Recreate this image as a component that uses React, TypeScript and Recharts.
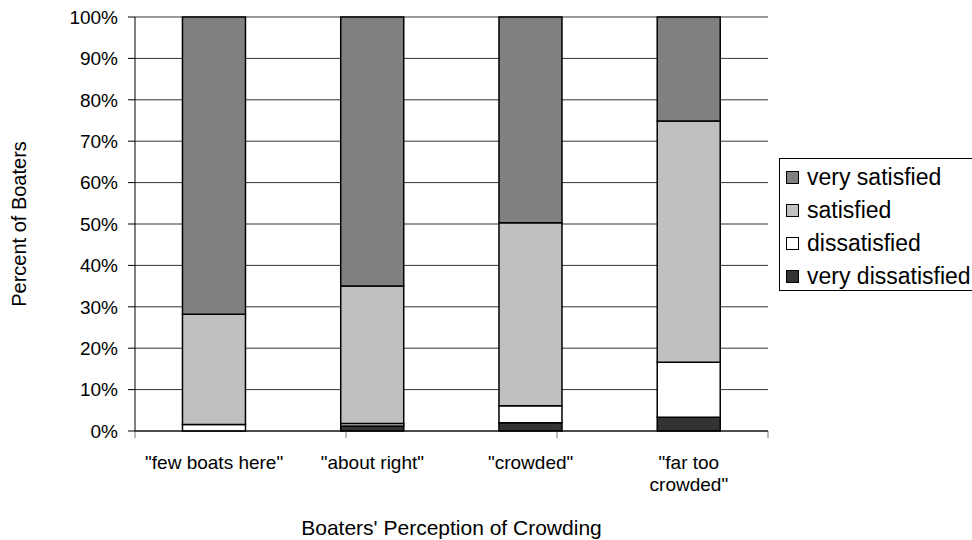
import {
  BarChart, Bar, XAxis, YAxis, CartesianGrid, Legend, ReferenceLine,
} from 'recharts';

const CATEGORIES = ['"few boats here"', '"about right"', '"crowded"', '"far too\ncrowded"'];

// percent of boaters, bottom to top of each stack
const VERY_DISSATISFIED = [0, 1.2, 2.0, 3.3];
const DISSATISFIED = [1.6, 0.6, 4.1, 13.3];
const SATISFIED = [26.6, 33.2, 44.2, 58.3];
const VERY_SATISFIED = [71.8, 65.0, 49.7, 25.1];

const Y_TICKS = [0, 10, 20, 30, 40, 50, 60, 70, 80, 90, 100];
// category boundaries on the hidden "edges" axis
const EDGE_TICKS = [0, 1, 2, 3, 4];

const SERIES = [
  { key: 'veryDissatisfied', label: 'very dissatisfied', color: '#333333' },
  { key: 'dissatisfied', label: 'dissatisfied', color: '#ffffff' },
  { key: 'satisfied', label: 'satisfied', color: '#c0c0c0' },
  { key: 'verySatisfied', label: 'very satisfied', color: '#808080' },
];

const FONT = '"Liberation Sans", Arial, sans-serif';

const data = CATEGORIES.map((name, i) => ({
  name,
  veryDissatisfied: VERY_DISSATISFIED[i],
  dissatisfied: DISSATISFIED[i],
  satisfied: SATISFIED[i],
  verySatisfied: VERY_SATISFIED[i],
}));

function CategoryTick({ x, y, payload }: any) {
  const lines = String(payload.value).split('\n');
  return (
    <text x={x} y={y} textAnchor="middle" fontSize={19} fontFamily={FONT} fill="#000">
      {lines.map((line, i) => (
        <tspan key={i} x={x} dy={i === 0 ? '0.71em' : 22}>{line}</tspan>
      ))}
    </text>
  );
}

// legend box runs off the right edge of the picture, so no right border
function LegendBox() {
  return (
    <div style={{ width: 193, overflow: 'hidden' }}>
      <div style={{
        borderTop: '1px solid #000',
        borderBottom: '1px solid #000',
        borderLeft: '1px solid #000',
        boxSizing: 'border-box',
        height: 133,
        width: 260,
        padding: '2px 0 0 6px',
        background: '#fff',
        fontFamily: FONT,
        fontSize: 23,
        color: '#000',
      }}>
        {[...SERIES].reverse().map(s => (
          <div key={s.key} style={{ display: 'flex', alignItems: 'center', height: 33 }}>
            <span style={{
              display: 'inline-block',
              width: 13,
              height: 13,
              boxSizing: 'border-box',
              border: '1px solid #000',
              background: s.color,
              marginRight: 8,
            }} />
            <span style={{ whiteSpace: 'nowrap' }}>{s.label}</span>
          </div>
        ))}
      </div>
    </div>
  );
}

export default function App() {
  return (
    <div style={{
      position: 'absolute', left: 0, top: 0, width: 972, height: 540,
      overflow: 'hidden', background: '#fff',
    }}>
      <BarChart
        width={972}
        height={540}
        data={data}
        margin={{ top: 17, right: 204, bottom: 0, left: 0 }}
        barCategoryGap="30%"
        style={{ fontFamily: FONT }}
      >
        <CartesianGrid vertical={false} stroke="#333" strokeWidth={1} />
        <XAxis
          xAxisId="edges"
          type="number"
          domain={[0, 4]}
          allowDataOverflow
          ticks={EDGE_TICKS}
          hide
        />
        <XAxis
          dataKey="name"
          height={109}
          axisLine={{ stroke: '#000' }}
          tickLine={false}
          tickSize={6}
          tickMargin={19}
          tick={<CategoryTick />}
          interval={0}
          label={{
            value: "Boaters' Perception of Crowding",
            position: 'insideBottom',
            offset: 5,
            fontSize: 21,
            fill: '#000',
            fontFamily: FONT,
          }}
        />
        <YAxis
          width={135}
          domain={[0, 100]}
          ticks={Y_TICKS}
          interval={0}
          tickFormatter={(v: number) => `${v}%`}
          tick={{ fontSize: 19, fill: '#000', fontFamily: FONT }}
          tickSize={7}
          tickMargin={10}
          axisLine={{ stroke: '#000' }}
          tickLine={{ stroke: '#000' }}
          label={{
            value: 'Percent of Boaters',
            angle: -90,
            position: 'center',
            dx: -49,
            fontSize: 20,
            fill: '#000',
            fontFamily: FONT,
          }}
        />
        <ReferenceLine xAxisId="edges" x={4} stroke="#999" />
        {EDGE_TICKS.map(t => (
          <ReferenceLine
            key={t}
            xAxisId="edges"
            segment={[{ x: t, y: 0 }, { x: t, y: -1.7 }]}
            ifOverflow="visible"
            stroke="#777"
          />
        ))}
        {SERIES.map(s => (
          <Bar
            key={s.key}
            dataKey={s.key}
            name={s.label}
            stackId="a"
            fill={s.color}
            stroke="#000"
            strokeWidth={1.5}
            isAnimationActive={false}
          />
        ))}
        <Legend
          layout="vertical"
          align="center"
          verticalAlign="middle"
          wrapperStyle={{ left: 779, top: 158, width: 193 }}
          content={<LegendBox />}
        />
      </BarChart>
    </div>
  );
}
